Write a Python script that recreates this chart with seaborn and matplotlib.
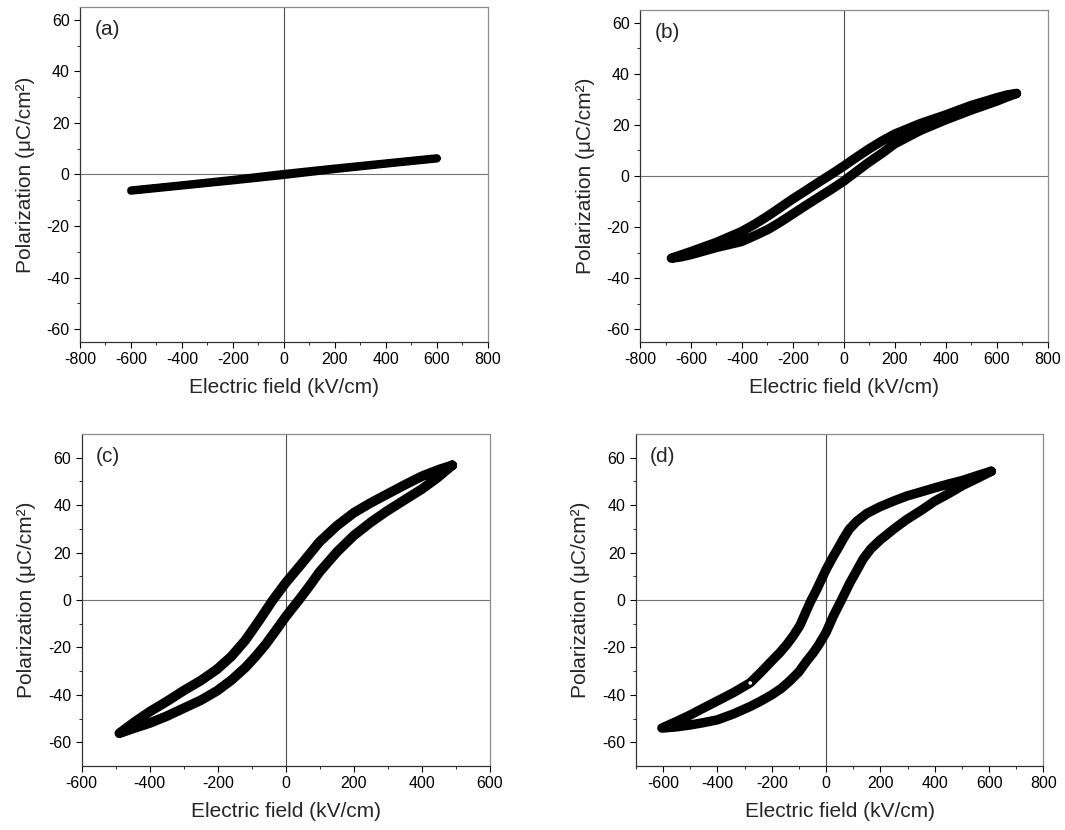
import numpy as np
import pandas as pd
import matplotlib
matplotlib.use('Agg')
import matplotlib.pyplot as plt
import seaborn as sns

# dados: ramo superior (de +Emax ate -Emax) e ramo inferior (de -Emax ate +Emax)
e_a_sup = [600, 400, 200, 0, -200, -400, -600]
p_a_sup = [6.4, 4.4, 2.4, 0.3, -2.0, -4.1, -6.1]
e_a_inf = [-600, -400, -200, 0, 200, 400, 600]
p_a_inf = [-6.4, -4.4, -2.4, -0.3, 2.0, 4.1, 6.1]

e_b_sup = [678, 640, 600, 500, 400, 300, 200, 150, 96, 48, 0, -50, -101, -150, -202, -250, -297, -350, -402, -500, -600, -677]
p_b_sup = [32.3, 31.7, 30.6, 27.6, 23.9, 20.5, 16.4, 13.7, 10.4, 7.2, 3.9, 0.6, -2.6, -5.8, -9.1, -12.4, -15.6, -18.9, -21.8, -26.0, -29.6, -32.2]
e_b_inf = [-677, -640, -600, -500, -402, -350, -297, -250, -202, -150, -101, -50, 0, 48, 96, 150, 200, 300, 400, 500, 600, 640, 678]
p_b_inf = [-32.2, -31.7, -30.8, -28.0, -25.7, -23.4, -20.9, -18.1, -15.0, -11.6, -8.5, -5.3, -2.0, 1.6, 5.2, 8.9, 12.6, 17.8, 22.0, 25.8, 29.3, 30.9, 32.3]

e_c_sup = [489, 450, 400, 350, 296, 250, 200, 150, 99, 49, 0, -40, -79, -119, -160, -202, -250, -301, -350, -400, -445, -489]
p_c_sup = [56.8, 55.0, 52.2, 48.6, 44.5, 41.0, 36.8, 31.3, 24.5, 15.7, 7.3, -0.4, -8.8, -17.0, -23.8, -29.2, -34.0, -38.3, -42.8, -47.1, -51.5, -56.2]
e_c_inf = [-489, -445, -400, -350, -301, -250, -202, -160, -119, -90, -59, -30, 0, 40, 70, 99, 150, 200, 250, 296, 350, 400, 445, 489]
p_c_inf = [-56.2, -54.0, -51.9, -49.0, -45.7, -42.3, -38.3, -33.8, -28.5, -24.0, -18.7, -13.0, -7.0, 0.3, 6.0, 11.8, 20.2, 27.2, 32.8, 37.4, 42.3, 46.8, 51.5, 56.8]

e_d_sup = [608, 560, 504, 450, 400, 350, 296, 250, 198, 150, 113, 85, 64, 45, 27, 0, -34, -59, -96, -120, -144, -170, -200, -240, -279, -340, -399, -450, -500, -550, -604]
p_d_sup = [54.3, 52.6, 50.5, 48.9, 47.3, 45.6, 43.8, 41.8, 39.3, 36.5, 33.2, 29.8, 25.9, 22.0, 18.5, 12.8, 4.5, -1.1, -10.7, -15.0, -18.7, -22.2, -25.7, -30.5, -34.9, -39.0, -42.5, -45.5, -48.5, -51.2, -54.0]
e_d_inf = [-604, -550, -500, -450, -399, -340, -279, -240, -200, -165, -132, -100, -71, -48, -28, 0, 27, 58, 88, 110, 137, 165, 198, 250, 296, 350, 400, 450, 504, 560, 608]
p_d_inf = [-54.0, -53.5, -52.7, -51.7, -50.5, -48.0, -44.9, -42.6, -40.0, -37.3, -34.0, -30.3, -25.7, -22.4, -19.1, -13.7, -6.7, 0.3, 7.3, 11.8, 17.4, 21.6, 25.2, 30.0, 33.9, 37.8, 41.7, 44.8, 48.4, 51.5, 54.3]

# ponto branco pequeno no painel (d)
e_ponto = [-279]
p_ponto = [-35]

panels = ['(a)', '(b)', '(c)', '(d)']
dados = [(e_a_sup, p_a_sup, e_a_inf, p_a_inf),
         (e_b_sup, p_b_sup, e_b_inf, p_b_inf),
         (e_c_sup, p_c_sup, e_c_inf, p_c_inf),
         (e_d_sup, p_d_sup, e_d_inf, p_d_inf)]
xlims = [(-800, 800), (-800, 800), (-600, 600), (-700, 800)]
ylims = [(-65, 65), (-65, 65), (-70, 70), (-70, 70)]
xticks = [np.arange(-800, 801, 200), np.arange(-800, 801, 200),
          np.arange(-600, 601, 200), np.arange(-600, 801, 200)]
xminor = [np.arange(-700, 800, 200), np.arange(-700, 800, 200),
          np.arange(-500, 600, 200), np.arange(-700, 800, 200)]
posicoes = [[0.0751, 0.588, 0.383, 0.4036],
            [0.601, 0.588, 0.3826, 0.400],
            [0.0766, 0.0771, 0.3835, 0.400],
            [0.597, 0.0771, 0.3828, 0.400]]
larguras = [5.5, 6.8, 7.0, 6.8]

sns.set_style('ticks')
plt.rcParams['font.family'] = ['Liberation Sans', 'DejaVu Sans']
plt.rcParams['axes.unicode_minus'] = False

fig = plt.figure(figsize=(10.65, 8.3), dpi=100)

for i in range(4):
    ax = fig.add_axes(posicoes[i])
    es, ps, ei, pi = dados[i]
    loop = pd.DataFrame({'E': list(es) + list(ei), 'P': list(ps) + list(pi)})
    ax.axhline(0, color='0.45', lw=0.8, zorder=1)
    ax.axvline(0, color='0.3', lw=0.8, zorder=1)
    sns.lineplot(data=loop, x='E', y='P', sort=False, estimator=None,
                 color='black', lw=larguras[i], ax=ax, zorder=3,
                 solid_capstyle='round', solid_joinstyle='round')
    if i == 3:
        ax.scatter(e_ponto, p_ponto, s=7, facecolor='white', edgecolor='none', zorder=4)

    ax.set_xlim(xlims[i])
    ax.set_ylim(ylims[i])
    ax.set_xticks(xticks[i])
    ax.set_xticks(xminor[i], minor=True)
    ax.set_yticks(np.arange(-60, 61, 20))
    ax.set_yticks(np.arange(-50, 51, 20), minor=True)
    ax.tick_params(which='major', direction='out', length=4, width=0.8, labelsize=11.5, colors='black')
    ax.tick_params(which='minor', direction='out', length=2.5, width=0.7)
    for s in ['left', 'bottom']:
        ax.spines[s].set_color('0.2')
        ax.spines[s].set_linewidth(0.9)
    for s in ['top', 'right']:
        ax.spines[s].set_visible(True)
        ax.spines[s].set_color('0.55')
        ax.spines[s].set_linewidth(0.9)

    ax.set_xlabel('Electric field (kV/cm)', fontsize=15, labelpad=7.5)
    ax.set_ylabel('Polarization (μC/cm²)', fontsize=15, labelpad=8.5)
    ax.text(0.035, 0.96, panels[i], transform=ax.transAxes, fontsize=15, va='top', ha='left')

fig.savefig('out.png', dpi=100)
